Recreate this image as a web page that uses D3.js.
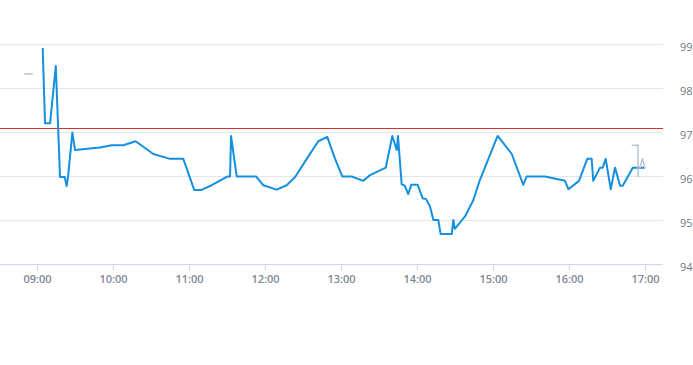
<!DOCTYPE html>
<html>
<head>
<meta charset="utf-8">
<script src="https://cdn.jsdelivr.net/npm/d3@7"></script>
<style>
  html, body { margin: 0; padding: 0; background: #ffffff; }
  svg { display: block; font-family: "Open Sans", "Lato", sans-serif; }
</style>
</head>
<body>
<svg id="chart" width="693" height="365"></svg>
<script>
// ---- data ----
const times = ["09:04:30","09:06:20","09:10:20","09:14:50","09:18:10","09:21:50","09:23:25","09:24:30","09:27:55","09:30:00",
  "09:49:40","09:59:00","10:08:05","10:17:55","10:31:50","10:45:00","10:55:30","11:04:10","11:09:30","11:17:55",
  "11:30:35","11:32:25","11:33:10","11:37:40","11:52:55","11:58:40","12:09:10","12:17:05","12:23:40","12:32:55",
  "12:42:05","12:49:10","12:55:20","13:01:00","13:08:25","13:17:35","13:22:55","13:35:20","13:40:30","13:44:00",
  "13:45:00","13:47:55","13:50:20","13:53:05","13:55:30","14:00:30","14:04:30","14:07:05","14:10:20","14:12:55",
  "14:16:50","14:18:40","14:27:25","14:28:40","14:29:50","14:37:55","14:44:25","14:49:10","15:03:40","15:14:50",
  "15:23:55","15:26:35","15:41:05","15:56:50","15:59:30","16:07:55","16:14:25","16:17:55","16:19:10","16:24:30",
  "16:26:35","16:29:00","16:32:55","16:36:20","16:40:20","16:42:25","16:50:20","17:00:00"];
const prices = [98.91,97.20,97.20,98.50,95.98,95.98,95.77,95.98,96.99,96.59,
  96.65,96.70,96.70,96.79,96.50,96.39,96.39,95.68,95.68,95.79,
  95.99,95.99,96.91,95.99,95.99,95.79,95.69,95.79,95.97,96.39,
  96.79,96.89,96.39,95.99,95.99,95.89,96.02,96.19,96.91,96.59,
  96.91,95.81,95.78,95.59,95.80,95.80,95.49,95.48,95.30,95.00,
  95.00,94.68,94.68,95.00,94.80,95.08,95.45,95.87,96.91,96.50,
  95.80,95.99,95.99,95.89,95.70,95.89,96.39,96.39,95.89,96.19,
  96.19,96.39,95.70,96.19,95.78,95.78,96.19,96.19];
const refLevel = 97.09;                       // red horizontal line
const prevTimes = ["08:50:00","08:56:35"];    // grey dash at the left
const prevPrices = [98.32, 98.32];
const tailTimes = ["16:49:30","16:54:30","16:54:30"];   // grey marker at the right
const tailPrices = [96.70, 96.70, 95.98];
const arrowTimes = ["16:56:05","16:57:55","17:00:00"];
const arrowPrices = [96.18, 96.40, 96.18];
const xTickLabels = ["09:00","10:00","11:00","12:00","13:00","14:00","15:00","16:00","17:00"];
const yTickValues = [94, 95, 96, 97, 98, 99];
const yTickLabels = ["94","95","96","97","98","99"];

// ---- drawing ----
const parse = d3.timeParse("%H:%M:%S");
const parseHM = d3.timeParse("%H:%M");
const svg = d3.select("#chart");
const plotRight = 663, axisY = 264;

const x = d3.scaleTime()
  .domain([parse("08:30:47"), parse("17:14:13")])
  .range([0, plotRight]);
const y = d3.scaleLinear().domain([94, 99]).range([axisY, 44]);

// grid lines
svg.append("g").selectAll("line")
  .data(yTickValues.filter(v => v > 94))
  .join("line")
  .attr("x1", 0).attr("x2", plotRight)
  .attr("y1", d => y(d) + 0.5).attr("y2", d => y(d) + 0.5)
  .attr("stroke", "#e6e6e6").attr("stroke-width", 1)
  .attr("shape-rendering", "crispEdges");

// x axis
const xAxis = d3.axisBottom(x)
  .tickValues(xTickLabels.map(parseHM))
  .tickFormat(d3.timeFormat("%H:%M"))
  .tickSize(5).tickPadding(6);
const gx = svg.append("g").attr("transform", `translate(0,${axisY + 0.5})`).call(xAxis);
gx.select(".domain").attr("d", `M0,0H${plotRight}`).attr("stroke", "#ccd6eb")
  .attr("shape-rendering", "crispEdges");
gx.selectAll(".tick line").attr("stroke", "#ccd6eb").attr("shape-rendering", "crispEdges");
gx.selectAll(".tick text").attr("fill", "#7f8892").attr("font-size", "11px")
  .attr("font-weight", "600")
  .attr("font-family", "'Open Sans', sans-serif");

// y axis labels (right side)
const yAxis = d3.axisRight(y).tickValues(yTickValues)
  .tickFormat((d, i) => yTickLabels[i]).tickSize(0).tickPadding(0);
const gy = svg.append("g").attr("transform", "translate(680,3)").call(yAxis);
gy.select(".domain").remove();
gy.selectAll(".tick text").attr("fill", "#777777").attr("font-size", "11px")
  .attr("font-family", "'Open Sans', sans-serif");

// reference line
svg.append("line")
  .attr("x1", 0).attr("x2", plotRight)
  .attr("y1", Math.round(y(refLevel)) + 0.5).attr("y2", Math.round(y(refLevel)) + 0.5)
  .attr("stroke", "#d3332c").attr("stroke-width", 1)
  .attr("shape-rendering", "crispEdges");

const line = d3.line().x(d => x(d[0])).y(d => y(d[1]));

// grey previous dash
svg.append("path")
  .datum(prevTimes.map((t, i) => [parse(t), prevPrices[i]]))
  .attr("d", line).attr("fill", "none")
  .attr("stroke", "#b7c0c8").attr("stroke-width", 1.5);

// main series
svg.append("path")
  .datum(times.map((t, i) => [parse(t), prices[i]]))
  .attr("d", line).attr("fill", "none")
  .attr("stroke", "#1590de").attr("stroke-width", 2)
  .attr("stroke-linejoin", "round");

// grey tail markers
svg.append("path")
  .datum(tailTimes.map((t, i) => [parse(t), tailPrices[i]]))
  .attr("d", line).attr("fill", "none")
  .attr("stroke", "#b7c4ce").attr("stroke-width", 1.5);
svg.append("path")
  .datum(arrowTimes.map((t, i) => [parse(t), arrowPrices[i]]))
  .attr("d", line).attr("fill", "none")
  .attr("stroke", "#b7c4ce").attr("stroke-width", 1.5);
</script>
</body>
</html>
